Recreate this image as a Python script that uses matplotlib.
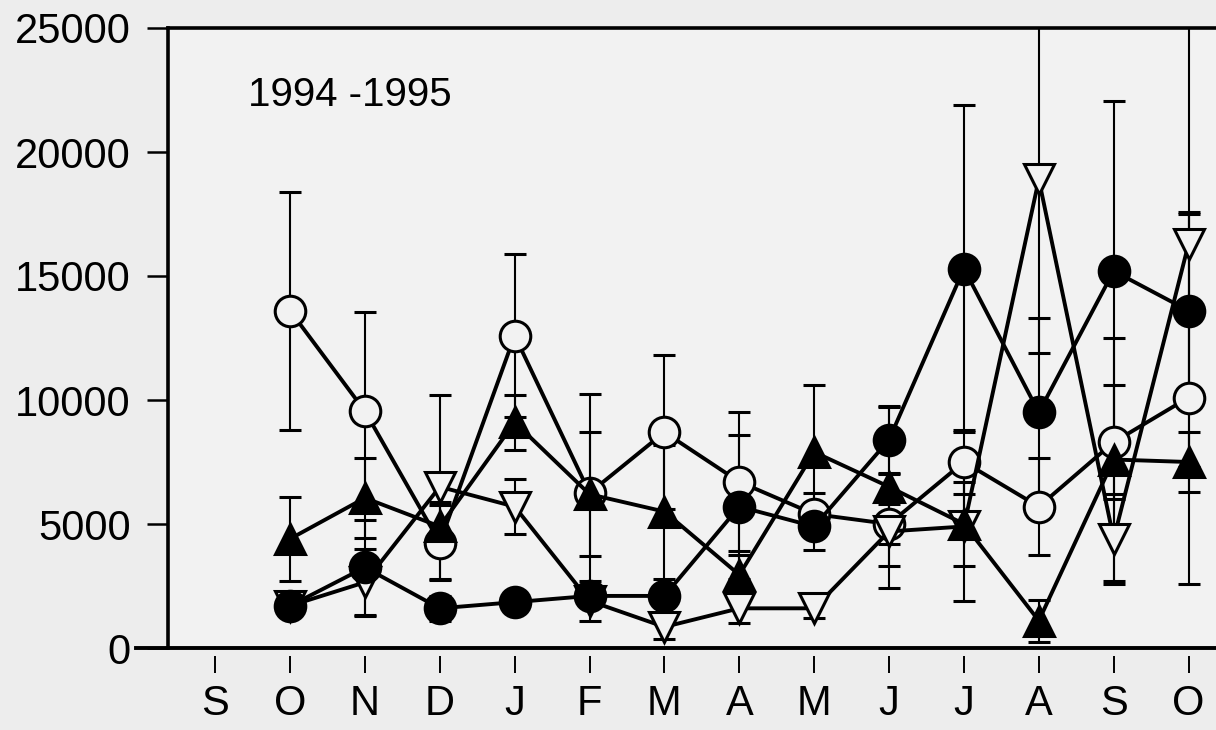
import matplotlib.pyplot as plt
import matplotlib.transforms as mtransforms

plt.rcParams['font.family'] = ['Liberation Sans', 'DejaVu Sans']

months = ['S', 'O', 'N', 'D', 'J', 'F', 'M', 'A', 'M', 'J', 'J', 'A', 'S', 'O']
x = list(range(1, 14))  # O .. O (no data at first S)

# open circles
open_circ = [13600, 9550, 4250, 12600, 6250, 8700, 6700, 5400, 5000, 7500, 5700, 8300, 10100]
open_circ_err = [4800, 4000, 1500, 3300, 4000, 3100, 2800, 850, 800, 1300, 1950, 2300, 7500]
# filled circles
fill_circ = [1700, 3250, 1600, 1850, 2100, 2100, 5700, 4900, 8400, 15300, 9500, 15200, 13600]
fill_circ_err = [300, 1900, 500, 300, 400, 400, 2900, 950, 1350, 6600, 3800, 6850, 3900]
# filled triangles (up)
tri_up = [4400, 6050, 4900, 9100, 6200, 5500, 2950, 7900, 6500, 5000, 1100, 7600, 7500]
tri_up_err = [1700, 1600, 1000, 1100, 2500, 2700, 800, 2700, 3200, 1700, 850, 4900, 1200]
# open triangles (down)
tri_dn = [1700, 2650, 6500, 5700, 1900, 850, 1600, 1600, 4700, 4900, 18900, 4400, 16300]
tri_dn_err = [300, 1350, 3700, 1100, 800, 500, 600, 400, 2300, 3000, 7000, 1800, 9000]

bg_out = '#ededed'
bg_in = '#f2f2f2'

fig = plt.figure(figsize=(12.16, 7.3), dpi=100, facecolor=bg_out)
ax = fig.add_axes([168 / 1216, 82 / 730, 1067 / 1216, 620 / 730])
ax.set_facecolor(bg_in)

common = dict(color='k', lw=2.8, ms=22, mew=2.2, elinewidth=1.5, capsize=8, capthick=1.5)
ax.errorbar(x, open_circ, yerr=open_circ_err, marker='o', mfc=bg_in, mec='k', **common)
ax.errorbar(x, tri_dn, yerr=tri_dn_err, marker='v', mfc=bg_in, mec='k', **common)
ax.errorbar(x, tri_up, yerr=tri_up_err, marker='^', mfc='k', mec='k', **common)
ax.errorbar(x, fill_circ, yerr=fill_circ_err, marker='o', mfc='k', mec='k', **common)

ax.set_xlim(-0.63, 13.62)
ax.set_ylim(0, 25000)
ax.set_yticks([0, 5000, 10000, 15000, 20000, 25000])
ax.set_xticks(range(len(months)))
ax.set_xticklabels(months)

ax.spines['right'].set_visible(False)
ax.spines['left'].set_linewidth(2.6)
ax.spines['top'].set_linewidth(2.6)
# bottom axis line drawn separately; ticks sit a little below it
ax.spines['bottom'].set_position(('outward', 6))
ax.spines['bottom'].set_color('none')
trans = mtransforms.blended_transform_factory(ax.transAxes, ax.transData)
ax.plot([-0.03, 1.0], [0, 0], color='k', lw=2.8, transform=trans, clip_on=False)

ax.tick_params(axis='y', direction='out', length=15, width=1.8, labelsize=30, pad=12)
ax.tick_params(axis='x', direction='out', length=12, width=1.4, labelsize=30, pad=8)

ax.text(0.44, 22300, '1994 -1995', fontsize=29, va='center', ha='left')

fig.savefig('out.png', dpi=100, facecolor=bg_out)
